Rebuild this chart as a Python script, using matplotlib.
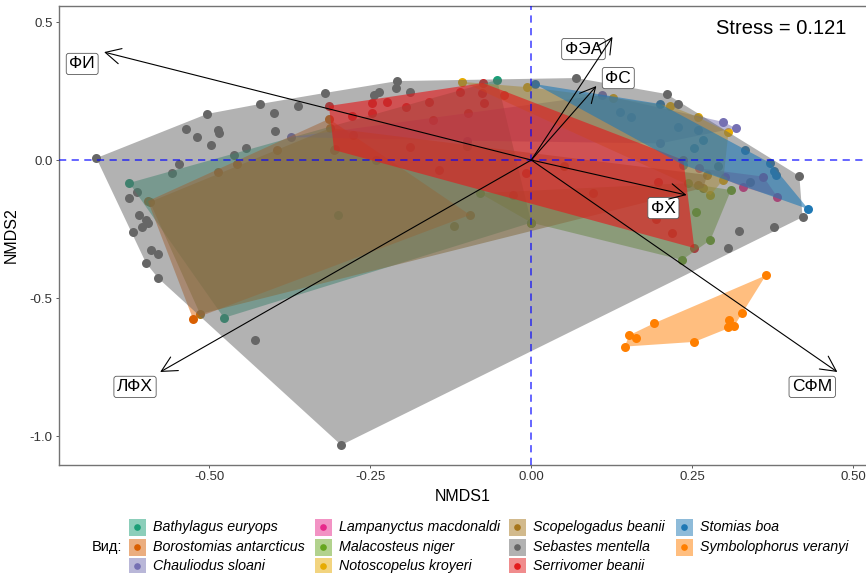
import numpy as np
import matplotlib.pyplot as plt
from matplotlib.patches import Polygon, Rectangle
from matplotlib.lines import Line2D

plt.rcParams['font.family'] = ['Liberation Sans', 'DejaVu Sans']

W, H = 866, 573

# ---- data (NMDS scores) ----
species = ['Bathylagus euryops', 'Borostomias antarcticus', 'Chauliodus sloani',
           'Lampanyctus macdonaldi', 'Malacosteus niger', 'Notoscopelus kroyeri',
           'Scopelogadus beanii', 'Sebastes mentella', 'Serrivomer beanii',
           'Stomias boa', 'Symbolophorus veranyi']
colors = ['#1B9E77', '#D95F02', '#7570B3', '#E7298A', '#66A61E', '#E6AB02',
          '#A6761D', '#666666', '#E31A1C', '#1F78B4', '#FF7F00']

bathylagus = np.array([[-0.624, -0.083], [-0.477, -0.572], [-0.053, 0.290], [0.000, -0.227],
                       [-0.30, -0.20], [-0.10, 0.05]])
borostomias = np.array([[-0.525, -0.576], [-0.595, -0.149], [-0.486, -0.043], [-0.457, -0.014],
                        [-0.394, 0.036], [-0.314, 0.149], [-0.304, 0.040], [-0.095, -0.199]])
chauliodus = np.array([[-0.373, 0.083], [0.110, 0.236], [0.298, 0.138], [0.317, 0.116],
                       [0.200, 0.060], [-0.100, 0.070]])
lampanyctus = np.array([[0.382, -0.134], [0.329, -0.098], [0.300, -0.060], [0.360, -0.060],
                        [0.260, -0.030]])
malacosteus = np.array([[0.256, -0.188], [0.278, -0.290], [0.234, -0.362], [0.310, -0.109],
                        [0.243, -0.084], [0.000, -0.227], [-0.080, -0.120]])
notoscopelus = np.array([[-0.107, 0.283], [-0.006, 0.264], [0.127, 0.225], [0.216, 0.196],
                         [0.258, 0.156], [0.306, 0.101], [0.298, -0.072], [0.278, -0.127]])
scopelogadus = np.array([[-0.592, -0.152], [-0.514, -0.558], [-0.120, -0.240], [0.258, -0.091],
                         [0.267, -0.101], [0.273, -0.054], [-0.312, 0.116], [0.05, -0.02]])
sebastes = np.array([
    [-0.675, 0.007], [-0.503, 0.167], [-0.536, 0.112], [-0.519, 0.083], [-0.497, 0.054],
    [-0.486, 0.109], [-0.484, 0.098], [-0.421, 0.203], [-0.399, 0.170], [-0.398, 0.105],
    [-0.362, 0.196], [-0.320, 0.243], [-0.443, 0.043], [-0.461, 0.018], [-0.547, -0.014],
    [-0.557, -0.047], [-0.612, -0.116], [-0.624, -0.138], [-0.609, -0.199], [-0.598, -0.217],
    [-0.595, -0.228], [-0.604, -0.243], [-0.618, -0.261], [-0.590, -0.326], [-0.579, -0.341],
    [-0.598, -0.373], [-0.579, -0.428], [-0.429, -0.652], [-0.295, -1.033], [-0.244, 0.236],
    [-0.236, 0.246], [-0.208, 0.286], [-0.210, 0.261], [-0.188, 0.246], [0.070, 0.297],
    [0.210, 0.239], [0.227, 0.203], [0.416, -0.058], [0.421, -0.207], [0.377, -0.243],
    [0.323, -0.257], [0.306, -0.319], [-0.241, 0.000], [0.290, -0.020], [0.340, -0.080]])
serrivomer = np.array([
    [-0.314, 0.196], [-0.075, 0.279], [0.236, 0.000], [0.253, -0.319], [-0.306, 0.036],
    [-0.247, 0.207], [-0.224, 0.210], [-0.248, 0.170], [-0.278, 0.159], [-0.194, 0.192],
    [-0.158, 0.210], [-0.276, 0.091], [-0.189, 0.047], [-0.143, -0.036], [-0.110, 0.246],
    [-0.076, 0.243], [-0.043, 0.236], [-0.073, 0.207], [-0.099, 0.170], [-0.152, 0.145],
    [-0.028, -0.127], [-0.008, -0.047], [0.096, -0.120], [0.196, -0.080], [0.219, -0.264],
    [0.193, -0.214]])
stomias = np.array([[0.006, 0.275], [0.430, -0.178], [0.371, -0.011], [0.377, -0.040],
                    [0.379, -0.054], [0.200, 0.203], [0.332, 0.036], [0.236, -0.018],
                    [0.138, 0.174], [0.154, 0.156], [0.228, 0.120], [0.259, 0.109],
                    [0.252, 0.043], [0.267, 0.072]])
symbolophorus = np.array([[0.364, -0.418], [0.327, -0.555], [0.307, -0.580], [0.305, -0.604],
                          [0.315, -0.601], [0.191, -0.591], [0.152, -0.635], [0.163, -0.645],
                          [0.145, -0.676], [0.253, -0.659]])
scores = [bathylagus, borostomias, chauliodus, lampanyctus, malacosteus, notoscopelus,
          scopelogadus, sebastes, serrivomer, stomias, symbolophorus]

# env-fit vectors
vec_names = ['ФИ', 'ФЭА', 'ФС', 'ФХ', 'СФМ', 'ЛФХ']
vec_x = [-0.663, 0.126, 0.101, 0.241, 0.475, -0.576]
vec_y = [0.391, 0.446, 0.268, -0.127, -0.768, -0.768]
lab_x = [-0.697, 0.081, 0.135, 0.205, 0.436, -0.615]
lab_y = [0.348, 0.402, 0.297, -0.174, -0.822, -0.822]
stress = 0.121

HULL_ALPHA = 0.5
# these two hulls look denser in the original (overlapping sub-hulls)
ALPHA_OVERRIDE = {'Serrivomer beanii': 0.63, 'Stomias boa': 0.6, 'Scopelogadus beanii': 0.55}


def convex_hull(pts):
    p = sorted(map(tuple, pts))

    def cross(o, a, b):
        return (a[0] - o[0]) * (b[1] - o[1]) - (a[1] - o[1]) * (b[0] - o[0])
    lower, upper = [], []
    for q in p:
        while len(lower) >= 2 and cross(lower[-2], lower[-1], q) <= 0:
            lower.pop()
        lower.append(q)
    for q in reversed(p):
        while len(upper) >= 2 and cross(upper[-2], upper[-1], q) <= 0:
            upper.pop()
        upper.append(q)
    return np.array(lower[:-1] + upper[:-1])


def fig_xy(px, py):
    return px / W, 1 - py / H


fig = plt.figure(figsize=(W / 100, H / 100), dpi=100)
ax = fig.add_axes([59 / W, 108 / H, (867 - 59) / W, (465 - 6) / H])

for pts, c in zip(scores, colors):
    ax.scatter(pts[:, 0], pts[:, 1], s=42, color=c, lw=0, zorder=1)
for sp, pts, c in zip(species, scores, colors):
    ax.add_patch(Polygon(convex_hull(pts), closed=True, fc=c, ec='none',
                         alpha=ALPHA_OVERRIDE.get(sp, HULL_ALPHA), zorder=2))

ax.axhline(0, color='blue', alpha=0.65, lw=1.3, ls=(0, (4, 3)), zorder=3)
ax.axvline(0, color='blue', alpha=0.65, lw=1.3, ls=(0, (4, 3)), zorder=3)

for name, x, y, lx, ly in zip(vec_names, vec_x, vec_y, lab_x, lab_y):
    ax.text(lx, ly, name, fontsize=12.5, ha='center', va='center', zorder=4,
            bbox=dict(boxstyle='round,pad=0.18,rounding_size=0.15', fc='white', ec='0.35', lw=0.6))
    ax.annotate('', xy=(x, y), xytext=(0, 0), zorder=5,
                arrowprops=dict(arrowstyle='->,head_length=0.55,head_width=0.28', lw=0.8,
                                color='black', shrinkA=0, shrinkB=0, mutation_scale=20))

ax.text(0.388, 0.478, 'Stress = %.3f' % stress, fontsize=14.5, ha='center', va='center', zorder=6)

ax.set_xlim(-0.733, 0.521)
ax.set_ylim(-1.105, 0.558)
ax.set_xticks([-0.5, -0.25, 0, 0.25, 0.5])
ax.set_xticklabels(['-0.50', '-0.25', '0.00', '0.25', '0.50'])
ax.set_yticks([0.5, 0, -0.5, -1.0])
ax.set_yticklabels(['0.5', '0.0', '-0.5', '-1.0'])
ax.tick_params(length=2.5, width=0.7, color='0.35', labelsize=9.5, labelcolor='#333333', pad=2)
for s in ax.spines.values():
    s.set_color('0.45')
    s.set_linewidth(1.0)
ax.set_xlabel('NMDS1', fontsize=11.5, labelpad=4)
ax.set_ylabel('NMDS2', fontsize=11.5, labelpad=8)

# ---- legend (3 rows x 4 columns, column-major) ----
key_px = [137, 323, 517, 684]
row_py = [527, 547, 566]
for i, (name, c) in enumerate(zip(species, colors)):
    kx, ky = key_px[i // 3], row_py[i % 3]
    x0, y0 = fig_xy(kx - 8.5, ky + 8.5)
    fig.add_artist(Rectangle((x0, y0), 17 / W, 17 / H, transform=fig.transFigure,
                             fc=c, alpha=0.5, ec='none'))
    cx, cy = fig_xy(kx, ky)
    fig.add_artist(Line2D([cx], [cy], marker='o', ms=4.8, color=c, mec='none',
                          transform=fig.transFigure))
    tx, ty = fig_xy(kx + 16, ky)
    fig.text(tx, ty, name, fontsize=10.3, style='italic', ha='left', va='center')
vx, vy = fig_xy(92, 547)
fig.text(vx, vy, 'Вид:', fontsize=10.5, ha='left', va='center')

fig.savefig('out.png', dpi=100, facecolor='white')
